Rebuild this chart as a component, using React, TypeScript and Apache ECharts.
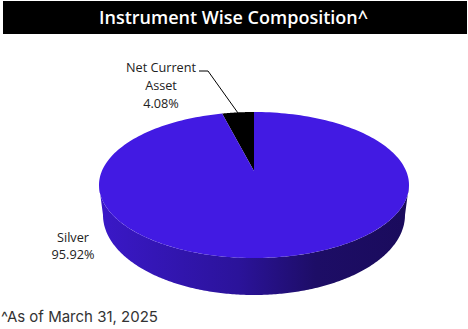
import React, { useEffect, useRef } from "react";
import * as echarts from "echarts";

const categories = ["Net Current Asset", "Silver"];
const shares = [4.08, 95.92];
const sliceColors = ["#000000", "#421ae3"];
const titleText = "Instrument Wise Composition^";
const footnote = "^As of March 31, 2025";

// Tilted, foreshortened pie geometry
const CX = 254;
const CY = 185;
const RX = 155;
const RY = 73;
const APEX_Y = 171;
const RAY_X = 125;
const RAY_Y = 59;
const BASE_CY = 215;
const BASE_RX = 151;
const BASE_RY = 80;

// Where a ray from the apex, at pie angle theta (clockwise from 12 o'clock), meets the rim.
function rimParam(theta: number) {
  const dx = RAY_X * Math.sin(theta);
  const dy = -RAY_Y * Math.cos(theta);
  const oy = APEX_Y - CY;
  const A = (dx * dx) / (RX * RX) + (dy * dy) / (RY * RY);
  const B = (2 * oy * dy) / (RY * RY);
  const C = (oy * oy) / (RY * RY) - 1;
  const s = (-B + Math.sqrt(B * B - 4 * A * C)) / (2 * A);
  const x = dx * s;
  const y = oy + dy * s;
  return Math.atan2(x / RX, -y / RY);
}

function renderPie(params: any, api: any) {
  const i = params.dataIndex;
  const total = shares.reduce((a, b) => a + b, 0);
  const sweep = (api.value(0) / total) * Math.PI * 2;
  const n = 240;
  // first slice ends at 12 o'clock, the second wraps round the rest of the pie
  const from = i === 0 ? rimParam(-sweep) : 0;
  const to = i === 0 ? 0 : Math.PI * 2 + rimParam(-(shares[0] / total) * Math.PI * 2);
  const top: number[][] = [[CX, APEX_Y]];
  for (let k = 0; k <= n; k++) {
    const t = from + ((to - from) * k) / n;
    top.push([CX + RX * Math.sin(t), CY - RY * Math.cos(t)]);
  }
  const children: any[] = [];
  if (i === 1) {
    const wall: number[][] = [];
    for (let k = 0; k <= n; k++) {
      const t = Math.PI / 2 + (Math.PI * k) / n;
      wall.push([CX + BASE_RX * Math.sin(t), BASE_CY - BASE_RY * Math.cos(t)]);
    }
    for (let k = n; k >= 0; k--) {
      const t = Math.PI / 2 + (Math.PI * k) / n;
      wall.push([CX + RX * Math.sin(t), CY - RY * Math.cos(t)]);
    }
    children.push({
      type: "polygon",
      shape: { points: wall },
      style: {
        fill: new echarts.graphic.LinearGradient(0, 0, 1, 0, [
          { offset: 0, color: "#3a18c8" },
          { offset: 0.45, color: "#2b139a" },
          { offset: 0.7, color: "#1d0d66" },
          { offset: 1, color: "#1a0b5c" },
        ]),
      },
    });
  }
  children.push({
    type: "polygon",
    shape: { points: top },
    style: { fill: sliceColors[i] },
  });
  return { type: "group", children };
}

export default function App() {
  const ref = useRef<HTMLDivElement>(null);
  useEffect(() => {
    const chart = echarts.init(ref.current!, undefined, { renderer: "svg" });
    const labelFont = { fontFamily: "Open Sans", fontSize: 12.7, fill: "#222222", align: "center", verticalAlign: "middle" };
    chart.setOption({
      animation: false,
      backgroundColor: "#ffffff",
      series: [
        {
          type: "custom",
          coordinateSystem: "none",
          data: shares.map((v, i) => ({ name: categories[i], value: [v] })),
          renderItem: renderPie,
          silent: true,
          z: 1,
        },
      ],
      graphic: [
        { type: "rect", shape: { x: 3, y: 1, width: 464, height: 33 }, style: { fill: "#000000" } },
        {
          type: "text", x: 233.5, y: 17,
          style: { text: titleText, fill: "#ffffff", fontFamily: "Open Sans", fontSize: 18, fontWeight: 600, align: "center", verticalAlign: "middle" },
        },
        { type: "text", x: 161, y: 67, z: 10, style: { ...labelFont, text: "Net Current" } },
        { type: "text", x: 161, y: 85, z: 10, style: { ...labelFont, text: "Asset" } },
        { type: "text", x: 161, y: 103, z: 10, style: { ...labelFont, text: shares[0].toFixed(2) + "%" } },
        {
          type: "polyline", z: 10,
          shape: { points: [[199, 71], [208, 71], [238, 113]] },
          style: { stroke: "#000000", lineWidth: 1, fill: "none" },
        },
        { type: "text", x: 73, y: 237, z: 10, style: { ...labelFont, text: categories[1] } },
        { type: "text", x: 73, y: 254, z: 10, style: { ...labelFont, text: shares[1].toFixed(2) + "%" } },
        {
          type: "text", x: 1, y: 316.5, z: 10,
          style: { text: footnote, fill: "#333333", fontFamily: "Inter", fontSize: 15, align: "left", verticalAlign: "middle" },
        },
      ],
    });
    return () => chart.dispose();
  }, []);
  return <div ref={ref} style={{ position: "fixed", left: 0, top: 0, width: 468, height: 329 }} />;
}
